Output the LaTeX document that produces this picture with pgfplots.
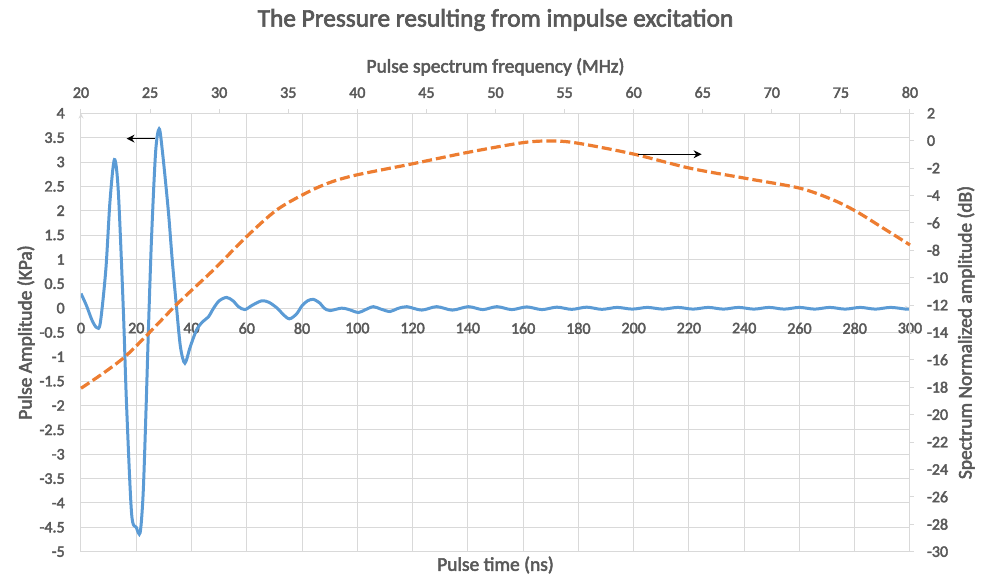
\documentclass[border=0pt]{standalone}
\usepackage{fontspec}
\setmainfont{Carlito}
\newfontfamily\cb{Carlito}[FakeBold=2.6]
\usepackage{pgfplots}
\pgfplotsset{compat=1.18}
\usetikzlibrary{arrows.meta}
\definecolor{txtgray}{RGB}{89,89,89}
\definecolor{gridgray}{RGB}{217,217,217}
\definecolor{pulseblue}{RGB}{91,155,213}
\definecolor{specorange}{RGB}{237,125,49}

\tikzset{lbl/.style={font=\cb\fontsize{14.6}{17}\selectfont, text=txtgray}}
\pgfplotsset{
  chartbase/.style={
    scale only axis, width=621.75pt, height=328.8pt,
    /pgf/number format/assume math mode=true,
    tick label style={font=\cb\fontsize{12}{14}\selectfont, text=txtgray},
    axis line style={gridgray, line width=0.75pt, -},
    tick style={gridgray, line width=0.75pt},
  },
}

\begin{document}
\begin{tikzpicture}
% pulse in time domain
\begin{axis}[chartbase,
  xmin=0, xmax=300, ymin=-5, ymax=4,
  axis x line=middle, axis y line=left,
  hide obscured x ticks=false, hide obscured y ticks=false,
  xtick distance=20, ytick distance=0.5,
  major tick length=0pt,
  grid=major, major grid style={gridgray, line width=0.75pt},
  xticklabel style={anchor=north, yshift=-7.5pt},
  yticklabel style={/pgf/number format/fixed, anchor=east, xshift=-8.7pt},
  xlabel={Pulse time (ns)},
  every axis x label/.style={lbl, at={(rel axis cs:0.5,-0.0304)}, anchor=center},
  ylabel={Pulse Amplitude (KPa)},
  every axis y label/.style={lbl, at={(rel axis cs:-0.0663,0.5)}, anchor=center, rotate=90},
]
\addplot[pulseblue, line width=2.25pt, smooth, tension=0.5] coordinates {
(0,0.30) (2,0.05) (4,-0.25) (5.7,-0.40) (7,-0.30) (9,0.8) (10.5,2.2)
(12.1,3.05) (13.5,2.4) (15.3,0) (16.5,-2.0) (18.3,-4.21) (20,-4.5)
(21.4,-4.61) (22.5,-3.8) (23.5,-2.15) (24.4,-0.45) (25.5,1.4) (27,3.2)
(28.3,3.68) (29.5,3.2) (31.6,2.0) (33,1.0) (34.6,0) (36,-0.8) (37.6,-1.13)
(39.5,-0.8) (41.8,-0.45) (44,-0.28) (46.1,-0.18) (48,0.0) (50,0.15)
(52.7,0.22) (55,0.15) (57,0.03) (59.3,-0.03) (62,0.06) (65.4,0.15)
(68,0.12) (71,0.0) (73,-0.12) (75.4,-0.22) (78,-0.12) (80,0.05) (82,0.15)
(84.1,0.18) (86.5,0.1) (88,0.0) (90.1,-0.05) (94.3,0.0) (97,-0.03)
(100.4,-0.09) (103,-0.03) (105.8,0.03) (108.5,-0.02) (111.8,-0.07)
(114.5,-0.01) (117.9,0.03) (123.3,-0.04) (128.7,0.03) (134.4,-0.04)
(140.2,0.03) (145.4,-0.03) (150.5,0.03) (155.9,-0.03) (161.3,0.025)
(166.8,-0.03) (172.2,0.02) (177.6,-0.025) (183,0.02) (188.5,-0.025)
(194,0.015) (199.5,-0.02) (205,0.015) (210.5,-0.02) (216,0.015)
(221.5,-0.02) (227,0.015) (232.5,-0.02) (238,0.015) (243.5,-0.02)
(249,0.015) (254.5,-0.02) (260,0.015) (265.5,-0.02) (271,0.015)
(276.5,-0.02) (282,0.015) (287.5,-0.02) (293,0.015) (298.5,-0.02) (300,-0.02)
};
\draw[black, line width=1.1pt, -{Stealth[length=6pt,width=6pt]}] (axis cs:26.8,3.48) -- (axis cs:16.5,3.48);
\end{axis}

% pulse spectrum
\begin{axis}[chartbase,
  clip=false,
  xmin=20, xmax=80, ymin=-30, ymax=2,
  axis x line*=top, axis y line*=right,
  xtick distance=5, ytick distance=2,
  tick align=outside, major tick length=3pt,
  xticklabel style={yshift=5pt},
  yticklabel style={xshift=6.2pt},
  xlabel={Pulse spectrum frequency (MHz)},
  every axis x label/.style={lbl, at={(rel axis cs:0.5,1.1056)}, anchor=center},
  ylabel={Spectrum Normalized amplitude (dB)},
  every axis y label/.style={lbl, at={(rel axis cs:1.0676,0.5)}, anchor=center, rotate=90},
]
\addplot[specorange, line width=2.4pt, smooth, tension=0.5, dash pattern=on 7.5pt off 3pt] coordinates {
(20,-18.07) (23.18,-15.77) (26.93,-11.95) (29.58,-9.44) (31.99,-7.0)
(34.16,-5.06) (36.33,-3.80) (38.02,-3.05) (39.95,-2.50) (43.93,-1.70)
(47.91,-0.87) (52.01,-0.14) (54.18,-0.02) (56.0,-0.19) (59.97,-0.97)
(64.08,-2.01) (68.06,-2.74) (72.04,-3.47) (74.45,-4.33) (76.14,-5.18)
(78.07,-6.39) (80,-7.61)
};
\draw[black, line width=1.1pt, -{Stealth[length=6pt,width=6pt]}] (axis cs:60.33,-0.99) -- (axis cs:64.92,-0.99);
\node[font=\cb\fontsize{19}{23}\selectfont, text=txtgray] at (rel axis cs:0.5,1.2128) {The Pressure resulting from impulse excitation};
\coordinate (bbsw) at (rel axis cs:-0.0977,-0.0577);
\coordinate (bbne) at (rel axis cs:1.0893,1.2584);
\end{axis}
\pgfresetboundingbox
\path[use as bounding box] (bbsw) rectangle (bbne);
\end{tikzpicture}
\end{document}
